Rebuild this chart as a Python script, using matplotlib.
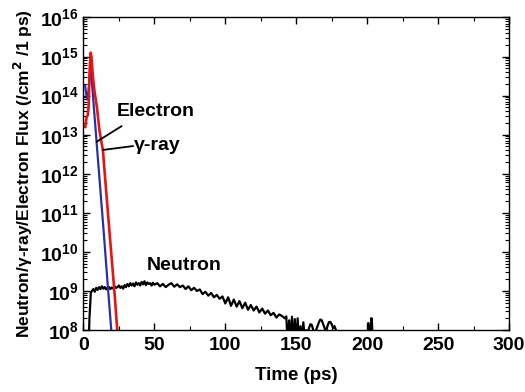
import numpy as np
import matplotlib
matplotlib.use("Agg")
import matplotlib.pyplot as plt
from matplotlib.ticker import LogLocator, MultipleLocator, NullFormatter

plt.rcParams['font.family'] = ['Liberation Sans', 'DejaVu Sans']
plt.rcParams['font.weight'] = 'bold'
plt.rcParams['mathtext.default'] = 'bf'

# Electron flux (blue): time (ps), log10 flux
electron_t = [1.2, 2.5, 3.5, 5.0, 7.0, 9.7, 12.0, 14.5, 17.0, 19.6, 20.5]
electron_log = [14.24, 13.9, 14.1, 14.8, 13.85, 12.6, 11.55, 10.4, 9.2, 8.0, 7.6]

# Gamma-ray flux (red)
gamma_t = [1.3, 2.2, 3.0, 3.6, 4.4, 5.1, 5.6, 6.6, 7.8, 9.5, 11.3, 13.7, 16.5, 19.5, 22.0, 23.8, 24.5]
gamma_log = [13.2, 13.45, 13.5, 13.7, 14.7, 15.1, 15.0, 14.5, 14.1, 13.7, 13.1, 12.6, 11.33, 10.0, 8.9, 8.0, 7.7]

# Neutron flux (black)
neutron_t = [3.6, 4.2, 5.2, 6.0, 7.0, 8.0, 9.0, 10.0, 11.0, 12.0, 13.0, 14.0, 15.0, 16.0,
             17.0, 18.0, 19.0, 20.0, 21.0, 22.0, 23.0, 24.0, 25.0, 26.0, 27.0, 28.0, 29.0,
             30.0, 31.0, 32.0, 33.0, 34.0, 35.0, 36.0, 37.0, 38.0, 39.0, 40.0, 41.0, 42.0,
             43.0, 44.0, 45.0, 46.0, 47.0, 48.0, 49.0, 50.0, 52.0, 54.0, 56.0, 58.0, 60.0,
             62.0, 64.0, 66.0, 68.0, 70.0, 72.0, 74.0, 76.0, 78.0, 80.0, 82.0, 84.0, 86.0,
             88.0, 90.0, 92.0, 94.0, 96.0, 98.0, 100.0, 102.0, 104.0, 106.0, 108.0, 110.0,
             112.0, 114.0, 116.0, 118.0, 120.0, 122.0, 124.0, 126.0, 128.0, 130.0, 132.0,
             134.0, 136.0, 138.0, 140.0, 142.0, 143.0, 144.0, 145.0, 146.0, 147.0, 148.0,
             149.0, 150.0, 151.0, 152.0, 153.0, 154.0, 155.0, 156.0, 157.0, 158.0, 159.0,
             160.0, 161.0, 162.0, 163.0, 164.0, 165.0, 166.0, 167.0, 168.0, 169.0, 170.0,
             171.0, 172.0, 173.0, 174.0, 175.0, 176.0, 177.0, 178.0, 179.0, 180.0, 181.0,
             182.0, 183.0]
neutron_log = [7.5, 8.3, 8.96, 9.0, 9.05, 8.98, 9.08, 9.03, 9.1, 9.05, 9.12, 9.06, 9.1, 9.04,
               9.08, 9.1, 9.05, 9.09, 9.06, 9.12, 9.08, 9.1, 9.14, 9.08, 9.12, 9.06, 9.15,
               9.1, 9.18, 9.12, 9.2, 9.14, 9.19, 9.12, 9.22, 9.16, 9.2, 9.14, 9.23, 9.17,
               9.25, 9.15, 9.22, 9.18, 9.2, 9.14, 9.21, 9.16, 9.2, 9.12, 9.18, 9.1, 9.16,
               9.2, 9.11, 9.17, 9.1, 9.14, 9.05, 9.12, 9.02, 9.08, 9.0, 9.04, 8.92, 8.98,
               8.88, 8.95, 8.84, 8.9, 8.8, 8.86, 8.68, 8.84, 8.62, 8.78, 8.6, 8.74, 8.56,
               8.7, 8.52, 8.64, 8.5, 8.6, 8.45, 8.55, 8.42, 8.5, 8.38, 8.44, 8.32, 8.4,
               8.36, 8.3, 8.35, 7.6, 8.25, 7.7, 8.34, 7.6, 8.28, 7.5, 8.3, 7.6, 8.1, 7.7,
               8.2, 7.8, 8.0, 7.9, 8.05, 8.15, 8.13, 8.0, 7.9, 8.0, 8.1, 8.2, 8.27, 8.25,
               8.15, 8.05, 7.95, 8.1, 8.2, 8.21, 8.15, 8.05, 8.1, 8.0, 7.9, 7.8, 7.7,
               7.6, 7.5]

# Isolated neutron spike near 200 ps
spike_t = [199.5, 200.3, 200.8, 201.3, 202.2, 202.8, 203.3, 204.0]
spike_log = [7.5, 7.5, 8.18, 7.5, 7.5, 8.3, 8.3, 7.5]

fig = plt.figure(figsize=(5.25, 3.92), dpi=100)
ax = fig.add_axes([0.159, 0.158, 0.9695 - 0.159, 0.9554 - 0.158])

ax.plot(neutron_t, 10 ** np.array(neutron_log), color='black', lw=1.6)
ax.plot(spike_t, 10 ** np.array(spike_log), color='black', lw=1.6)
ax.plot(electron_t, 10 ** np.array(electron_log), color='#2233aa', lw=1.6)
ax.plot(gamma_t, 10 ** np.array(gamma_log), color='#ee1111', lw=1.9)

ax.set_yscale('log')
ax.set_xlim(0, 300)
ax.set_ylim(1e8, 1e16)
ax.xaxis.set_major_locator(MultipleLocator(50))
ax.xaxis.set_minor_locator(MultipleLocator(25))
ax.yaxis.set_major_locator(LogLocator(base=10, numticks=20))
ax.yaxis.set_minor_locator(LogLocator(base=10, subs=np.arange(2, 10), numticks=20))
ax.yaxis.set_minor_formatter(NullFormatter())
ax.tick_params(which='both', direction='in', top=True, right=True, labelsize=14)
ax.tick_params(axis='x', pad=5)
ax.tick_params(which='major', length=5, width=1)
ax.tick_params(which='minor', length=3, width=0.8)
for s in ax.spines.values():
    s.set_linewidth(1)

ax.set_xlabel('Time (ps)', fontsize=13.5, fontweight='bold', labelpad=9)
ax.set_ylabel('Neutron/γ-ray/Electron Flux (/cm$^2$ /1 ps)', fontsize=12.5, fontweight='bold', labelpad=3)

line_kw = dict(arrowstyle='-', color='black', lw=1.3, shrinkA=0, shrinkB=0)
ax.text(23.6, 10 ** 13.6, 'Electron', fontsize=14, fontweight='bold', va='center')
ax.annotate('', xy=(9.3, 10 ** 12.82), xytext=(26.9, 10 ** 13.22), arrowprops=line_kw)
ax.text(35.6, 10 ** 12.72, 'γ-ray', fontsize=14, fontweight='bold', va='center')
ax.annotate('', xy=(13.75, 10 ** 12.61), xytext=(35.0, 10 ** 12.71), arrowprops=line_kw)
ax.text(44.8, 10 ** 9.66, 'Neutron', fontsize=14, fontweight='bold', va='center')

fig.savefig('out.png', dpi=100)
